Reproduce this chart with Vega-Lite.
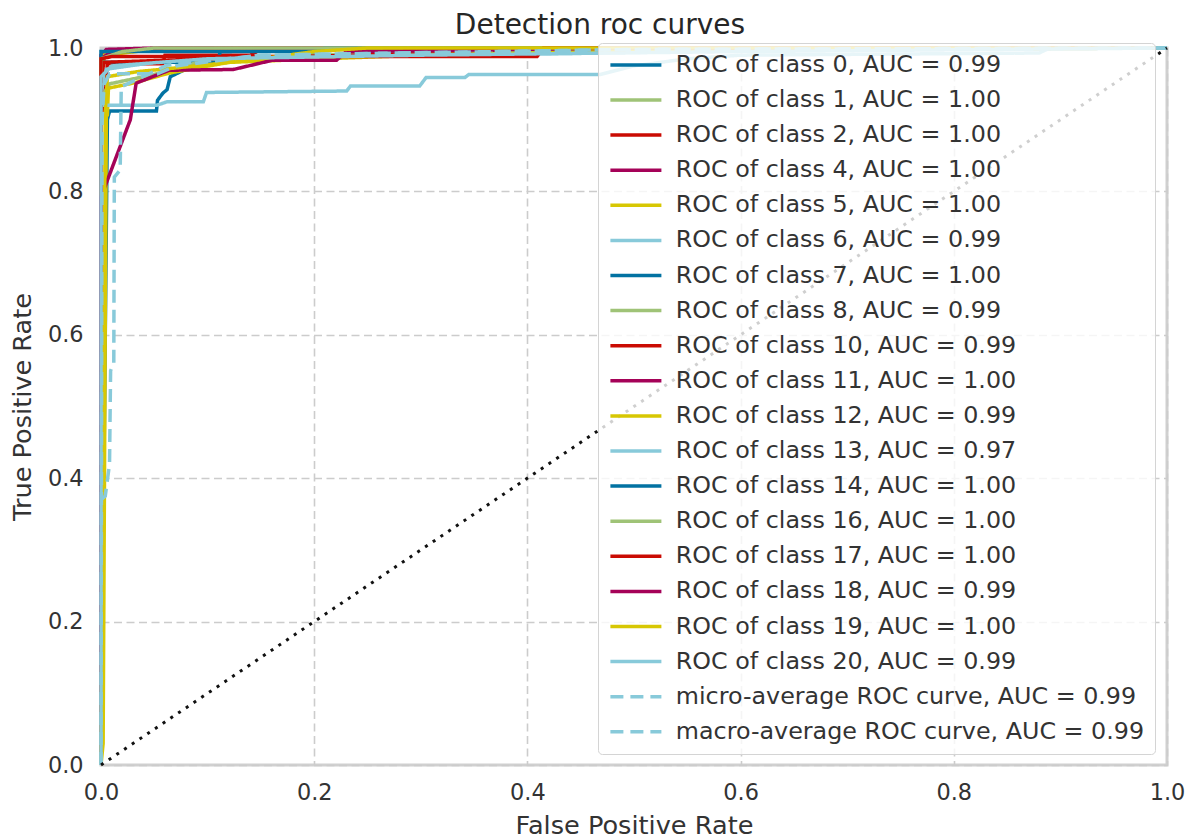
{
  "$schema": "https://vega.github.io/schema/vega-lite/v6.json",
  "width": 1066,
  "height": 717,
  "autosize": {"type": "none"},
  "padding": {"left": 101, "top": 48, "right": 32, "bottom": 75},
  "background": "white",
  "title": {"text": "Detection roc curves", "fontSize": 28, "font": "DejaVu Sans", "fontWeight": "normal", "color": "#262626", "offset": -3, "dx": -34},
  "config": {
    "font": "DejaVu Sans",
    "view": {"stroke": "#d0d0d0", "strokeWidth": 3},
    "axis": {
      "domain": false, "ticks": false,
      "grid": true, "gridColor": "#cccccc", "gridDash": [8, 4.5], "gridWidth": 1.6,
      "labelFont": "DejaVu Sans", "labelFontSize": 22.4, "labelColor": "#333333",
      "titleFont": "DejaVu Sans", "titleFontSize": 25.6, "titleColor": "#333333", "titleFontWeight": "normal",
      "labelFlush": false
    },
    "legend": {
      "title": null,
      "fillColor": "rgba(255,255,255,0.8)",
      "strokeColor": "#d4d4d4",
      "cornerRadius": 4,
      "padding": 10,
      "labelFont": "DejaVu Sans",
      "labelFontSize": 23.8,
      "labelColor": "#333333",
      "labelLimit": 0,
      "symbolType": "M-3,0H3",
      "symbolSize": 289,
      "symbolStrokeWidth": 3.5,
      "symbolOffset": 16,
      "labelOffset": 28,
      "rowPadding": 10.1,
      "symbolLimit": 0
    }
  },
  "datasets": {
    "diag": [{"fpr": 0, "tpr": 0}, {"fpr": 1, "tpr": 1}],
    "roc": [
      {"s": "ROC of class 0, AUC = 0.99", "fpr": 0, "tpr": 0},
      {"s": "ROC of class 0, AUC = 0.99", "fpr": 0.006, "tpr": 0.9},
      {"s": "ROC of class 0, AUC = 0.99", "fpr": 0.008, "tpr": 0.912},
      {"s": "ROC of class 0, AUC = 0.99", "fpr": 0.052, "tpr": 0.912},
      {"s": "ROC of class 0, AUC = 0.99", "fpr": 0.053, "tpr": 0.927},
      {"s": "ROC of class 0, AUC = 0.99", "fpr": 0.058, "tpr": 0.937},
      {"s": "ROC of class 0, AUC = 0.99", "fpr": 0.062, "tpr": 0.942},
      {"s": "ROC of class 0, AUC = 0.99", "fpr": 0.065, "tpr": 0.96},
      {"s": "ROC of class 0, AUC = 0.99", "fpr": 0.09, "tpr": 0.978},
      {"s": "ROC of class 0, AUC = 0.99", "fpr": 0.2, "tpr": 0.99},
      {"s": "ROC of class 0, AUC = 0.99", "fpr": 0.5, "tpr": 0.996},
      {"s": "ROC of class 0, AUC = 0.99", "fpr": 1, "tpr": 1},

      {"s": "ROC of class 1, AUC = 1.00", "fpr": 0, "tpr": 0},
      {"s": "ROC of class 1, AUC = 1.00", "fpr": 0, "tpr": 0.97},
      {"s": "ROC of class 1, AUC = 1.00", "fpr": 0.004, "tpr": 0.99},
      {"s": "ROC of class 1, AUC = 1.00", "fpr": 0.03, "tpr": 0.996},
      {"s": "ROC of class 1, AUC = 1.00", "fpr": 0.1, "tpr": 1},
      {"s": "ROC of class 1, AUC = 1.00", "fpr": 1, "tpr": 1},

      {"s": "ROC of class 2, AUC = 1.00", "fpr": 0, "tpr": 0},
      {"s": "ROC of class 2, AUC = 1.00", "fpr": 0, "tpr": 0.9},
      {"s": "ROC of class 2, AUC = 1.00", "fpr": 0.004, "tpr": 0.946},
      {"s": "ROC of class 2, AUC = 1.00", "fpr": 0.006, "tpr": 0.978},
      {"s": "ROC of class 2, AUC = 1.00", "fpr": 0.058, "tpr": 0.978},
      {"s": "ROC of class 2, AUC = 1.00", "fpr": 0.06, "tpr": 0.99},
      {"s": "ROC of class 2, AUC = 1.00", "fpr": 0.14, "tpr": 0.99},
      {"s": "ROC of class 2, AUC = 1.00", "fpr": 0.15, "tpr": 0.998},
      {"s": "ROC of class 2, AUC = 1.00", "fpr": 0.3, "tpr": 1},
      {"s": "ROC of class 2, AUC = 1.00", "fpr": 1, "tpr": 1},

      {"s": "ROC of class 4, AUC = 1.00", "fpr": 0, "tpr": 0},
      {"s": "ROC of class 4, AUC = 1.00", "fpr": 0, "tpr": 0.99},
      {"s": "ROC of class 4, AUC = 1.00", "fpr": 0.005, "tpr": 0.998},
      {"s": "ROC of class 4, AUC = 1.00", "fpr": 0.05, "tpr": 1},
      {"s": "ROC of class 4, AUC = 1.00", "fpr": 1, "tpr": 1},

      {"s": "ROC of class 5, AUC = 1.00", "fpr": 0, "tpr": 0},
      {"s": "ROC of class 5, AUC = 1.00", "fpr": 0, "tpr": 0.97},
      {"s": "ROC of class 5, AUC = 1.00", "fpr": 0.003, "tpr": 0.99},
      {"s": "ROC of class 5, AUC = 1.00", "fpr": 0.05, "tpr": 0.998},
      {"s": "ROC of class 5, AUC = 1.00", "fpr": 0.15, "tpr": 1},
      {"s": "ROC of class 5, AUC = 1.00", "fpr": 1, "tpr": 1},

      {"s": "ROC of class 6, AUC = 0.99", "fpr": 0, "tpr": 0},
      {"s": "ROC of class 6, AUC = 0.99", "fpr": 0, "tpr": 0.93},
      {"s": "ROC of class 6, AUC = 0.99", "fpr": 0.003, "tpr": 0.97},
      {"s": "ROC of class 6, AUC = 0.99", "fpr": 0.05, "tpr": 0.98},
      {"s": "ROC of class 6, AUC = 0.99", "fpr": 0.17, "tpr": 0.986},
      {"s": "ROC of class 6, AUC = 0.99", "fpr": 0.3, "tpr": 0.99},
      {"s": "ROC of class 6, AUC = 0.99", "fpr": 0.47, "tpr": 0.993},
      {"s": "ROC of class 6, AUC = 0.99", "fpr": 0.75, "tpr": 1},
      {"s": "ROC of class 6, AUC = 0.99", "fpr": 1, "tpr": 1},

      {"s": "ROC of class 7, AUC = 1.00", "fpr": 0, "tpr": 0},
      {"s": "ROC of class 7, AUC = 1.00", "fpr": 0, "tpr": 0.98},
      {"s": "ROC of class 7, AUC = 1.00", "fpr": 0.109, "tpr": 0.98},
      {"s": "ROC of class 7, AUC = 1.00", "fpr": 0.112, "tpr": 0.995},
      {"s": "ROC of class 7, AUC = 1.00", "fpr": 0.3, "tpr": 1},
      {"s": "ROC of class 7, AUC = 1.00", "fpr": 1, "tpr": 1},

      {"s": "ROC of class 8, AUC = 0.99", "fpr": 0, "tpr": 0},
      {"s": "ROC of class 8, AUC = 0.99", "fpr": 0, "tpr": 0.93},
      {"s": "ROC of class 8, AUC = 0.99", "fpr": 0.008, "tpr": 0.95},
      {"s": "ROC of class 8, AUC = 0.99", "fpr": 0.04, "tpr": 0.96},
      {"s": "ROC of class 8, AUC = 0.99", "fpr": 0.07, "tpr": 0.97},
      {"s": "ROC of class 8, AUC = 0.99", "fpr": 0.1, "tpr": 0.985},
      {"s": "ROC of class 8, AUC = 0.99", "fpr": 0.3, "tpr": 0.995},
      {"s": "ROC of class 8, AUC = 0.99", "fpr": 1, "tpr": 1},

      {"s": "ROC of class 10, AUC = 0.99", "fpr": 0, "tpr": 0},
      {"s": "ROC of class 10, AUC = 0.99", "fpr": 0, "tpr": 0.96},
      {"s": "ROC of class 10, AUC = 0.99", "fpr": 0.003, "tpr": 0.98},
      {"s": "ROC of class 10, AUC = 0.99", "fpr": 0.1, "tpr": 0.985},
      {"s": "ROC of class 10, AUC = 0.99", "fpr": 0.28, "tpr": 0.9916},
      {"s": "ROC of class 10, AUC = 0.99", "fpr": 0.368, "tpr": 0.9916},
      {"s": "ROC of class 10, AUC = 0.99", "fpr": 0.372, "tpr": 1},
      {"s": "ROC of class 10, AUC = 0.99", "fpr": 1, "tpr": 1},

      {"s": "ROC of class 11, AUC = 1.00", "fpr": 0, "tpr": 0},
      {"s": "ROC of class 11, AUC = 1.00", "fpr": 0, "tpr": 0.985},
      {"s": "ROC of class 11, AUC = 1.00", "fpr": 0.01, "tpr": 0.995},
      {"s": "ROC of class 11, AUC = 1.00", "fpr": 0.06, "tpr": 1},
      {"s": "ROC of class 11, AUC = 1.00", "fpr": 1, "tpr": 1},

      {"s": "ROC of class 12, AUC = 0.99", "fpr": 0, "tpr": 0},
      {"s": "ROC of class 12, AUC = 0.99", "fpr": 0.002, "tpr": 0.03},
      {"s": "ROC of class 12, AUC = 0.99", "fpr": 0.005, "tpr": 0.907},
      {"s": "ROC of class 12, AUC = 0.99", "fpr": 0.006, "tpr": 0.907},
      {"s": "ROC of class 12, AUC = 0.99", "fpr": 0.007, "tpr": 0.944},
      {"s": "ROC of class 12, AUC = 0.99", "fpr": 0.03, "tpr": 0.951},
      {"s": "ROC of class 12, AUC = 0.99", "fpr": 0.064, "tpr": 0.965},
      {"s": "ROC of class 12, AUC = 0.99", "fpr": 0.12, "tpr": 0.98},
      {"s": "ROC of class 12, AUC = 0.99", "fpr": 0.3, "tpr": 0.99},
      {"s": "ROC of class 12, AUC = 0.99", "fpr": 0.5, "tpr": 0.996},
      {"s": "ROC of class 12, AUC = 0.99", "fpr": 1, "tpr": 1},

      {"s": "ROC of class 13, AUC = 0.97", "fpr": 0, "tpr": 0},
      {"s": "ROC of class 13, AUC = 0.97", "fpr": 0, "tpr": 0.92},
      {"s": "ROC of class 13, AUC = 0.97", "fpr": 0.052, "tpr": 0.92},
      {"s": "ROC of class 13, AUC = 0.97", "fpr": 0.062, "tpr": 0.925},
      {"s": "ROC of class 13, AUC = 0.97", "fpr": 0.096, "tpr": 0.925},
      {"s": "ROC of class 13, AUC = 0.97", "fpr": 0.099, "tpr": 0.938},
      {"s": "ROC of class 13, AUC = 0.97", "fpr": 0.2305, "tpr": 0.94},
      {"s": "ROC of class 13, AUC = 0.97", "fpr": 0.234, "tpr": 0.947},
      {"s": "ROC of class 13, AUC = 0.97", "fpr": 0.299, "tpr": 0.947},
      {"s": "ROC of class 13, AUC = 0.97", "fpr": 0.305, "tpr": 0.959},
      {"s": "ROC of class 13, AUC = 0.97", "fpr": 0.3415, "tpr": 0.959},
      {"s": "ROC of class 13, AUC = 0.97", "fpr": 0.345, "tpr": 0.963},
      {"s": "ROC of class 13, AUC = 0.97", "fpr": 0.468, "tpr": 0.963},
      {"s": "ROC of class 13, AUC = 0.97", "fpr": 0.5, "tpr": 0.975},
      {"s": "ROC of class 13, AUC = 0.97", "fpr": 0.55, "tpr": 0.985},
      {"s": "ROC of class 13, AUC = 0.97", "fpr": 0.6, "tpr": 0.99},
      {"s": "ROC of class 13, AUC = 0.97", "fpr": 0.88, "tpr": 0.993},
      {"s": "ROC of class 13, AUC = 0.97", "fpr": 0.89, "tpr": 1},
      {"s": "ROC of class 13, AUC = 0.97", "fpr": 1, "tpr": 1},

      {"s": "ROC of class 14, AUC = 1.00", "fpr": 0, "tpr": 0},
      {"s": "ROC of class 14, AUC = 1.00", "fpr": 0, "tpr": 0.995},
      {"s": "ROC of class 14, AUC = 1.00", "fpr": 0.2, "tpr": 0.995},
      {"s": "ROC of class 14, AUC = 1.00", "fpr": 0.21, "tpr": 1},
      {"s": "ROC of class 14, AUC = 1.00", "fpr": 1, "tpr": 1},

      {"s": "ROC of class 16, AUC = 1.00", "fpr": 0, "tpr": 0},
      {"s": "ROC of class 16, AUC = 1.00", "fpr": 0, "tpr": 0.985},
      {"s": "ROC of class 16, AUC = 1.00", "fpr": 0.02, "tpr": 0.995},
      {"s": "ROC of class 16, AUC = 1.00", "fpr": 0.05, "tpr": 1},
      {"s": "ROC of class 16, AUC = 1.00", "fpr": 1, "tpr": 1},

      {"s": "ROC of class 17, AUC = 1.00", "fpr": 0, "tpr": 0},
      {"s": "ROC of class 17, AUC = 1.00", "fpr": 0, "tpr": 0.985},
      {"s": "ROC of class 17, AUC = 1.00", "fpr": 0.01, "tpr": 0.988},
      {"s": "ROC of class 17, AUC = 1.00", "fpr": 0.409, "tpr": 0.988},
      {"s": "ROC of class 17, AUC = 1.00", "fpr": 0.415, "tpr": 1},
      {"s": "ROC of class 17, AUC = 1.00", "fpr": 1, "tpr": 1},

      {"s": "ROC of class 18, AUC = 0.99", "fpr": 0, "tpr": 0},
      {"s": "ROC of class 18, AUC = 0.99", "fpr": 0, "tpr": 0.792},
      {"s": "ROC of class 18, AUC = 0.99", "fpr": 0.0275, "tpr": 0.9},
      {"s": "ROC of class 18, AUC = 0.99", "fpr": 0.033, "tpr": 0.951},
      {"s": "ROC of class 18, AUC = 0.99", "fpr": 0.064, "tpr": 0.969},
      {"s": "ROC of class 18, AUC = 0.99", "fpr": 0.124, "tpr": 0.97},
      {"s": "ROC of class 18, AUC = 0.99", "fpr": 0.161, "tpr": 0.983},
      {"s": "ROC of class 18, AUC = 0.99", "fpr": 0.221, "tpr": 0.983},
      {"s": "ROC of class 18, AUC = 0.99", "fpr": 0.23, "tpr": 0.995},
      {"s": "ROC of class 18, AUC = 0.99", "fpr": 0.5, "tpr": 1},
      {"s": "ROC of class 18, AUC = 0.99", "fpr": 1, "tpr": 1},

      {"s": "ROC of class 19, AUC = 1.00", "fpr": 0, "tpr": 0},
      {"s": "ROC of class 19, AUC = 1.00", "fpr": 0.004, "tpr": 0.91},
      {"s": "ROC of class 19, AUC = 1.00", "fpr": 0.006, "tpr": 0.96},
      {"s": "ROC of class 19, AUC = 1.00", "fpr": 0.034, "tpr": 0.967},
      {"s": "ROC of class 19, AUC = 1.00", "fpr": 0.062, "tpr": 0.971},
      {"s": "ROC of class 19, AUC = 1.00", "fpr": 0.121, "tpr": 0.98},
      {"s": "ROC of class 19, AUC = 1.00", "fpr": 0.14, "tpr": 0.983},
      {"s": "ROC of class 19, AUC = 1.00", "fpr": 0.2, "tpr": 0.995},
      {"s": "ROC of class 19, AUC = 1.00", "fpr": 0.25, "tpr": 1},
      {"s": "ROC of class 19, AUC = 1.00", "fpr": 1, "tpr": 1},

      {"s": "ROC of class 20, AUC = 0.99", "fpr": 0, "tpr": 0},
      {"s": "ROC of class 20, AUC = 0.99", "fpr": 0, "tpr": 0.96},
      {"s": "ROC of class 20, AUC = 0.99", "fpr": 0.01, "tpr": 0.975},
      {"s": "ROC of class 20, AUC = 0.99", "fpr": 0.1, "tpr": 0.985},
      {"s": "ROC of class 20, AUC = 0.99", "fpr": 0.3, "tpr": 0.99},
      {"s": "ROC of class 20, AUC = 0.99", "fpr": 0.6, "tpr": 0.995},
      {"s": "ROC of class 20, AUC = 0.99", "fpr": 1, "tpr": 1},

      {"s": "micro-average ROC curve, AUC = 0.99", "fpr": 0, "tpr": 0},
      {"s": "micro-average ROC curve, AUC = 0.99", "fpr": 0.001, "tpr": 0.9},
      {"s": "micro-average ROC curve, AUC = 0.99", "fpr": 0.003, "tpr": 0.95},
      {"s": "micro-average ROC curve, AUC = 0.99", "fpr": 0.008, "tpr": 0.964},
      {"s": "micro-average ROC curve, AUC = 0.99", "fpr": 0.053, "tpr": 0.964},
      {"s": "micro-average ROC curve, AUC = 0.99", "fpr": 0.07, "tpr": 0.975},
      {"s": "micro-average ROC curve, AUC = 0.99", "fpr": 0.15, "tpr": 0.99},
      {"s": "micro-average ROC curve, AUC = 0.99", "fpr": 0.5, "tpr": 0.998},
      {"s": "micro-average ROC curve, AUC = 0.99", "fpr": 1, "tpr": 1},

      {"s": "macro-average ROC curve, AUC = 0.99", "fpr": 0, "tpr": 0.37},
      {"s": "macro-average ROC curve, AUC = 0.99", "fpr": 0.004, "tpr": 0.375},
      {"s": "macro-average ROC curve, AUC = 0.99", "fpr": 0.008, "tpr": 0.42},
      {"s": "macro-average ROC curve, AUC = 0.99", "fpr": 0.009, "tpr": 0.55},
      {"s": "macro-average ROC curve, AUC = 0.99", "fpr": 0.012, "tpr": 0.56},
      {"s": "macro-average ROC curve, AUC = 0.99", "fpr": 0.0125, "tpr": 0.82},
      {"s": "macro-average ROC curve, AUC = 0.99", "fpr": 0.018, "tpr": 0.83},
      {"s": "macro-average ROC curve, AUC = 0.99", "fpr": 0.019, "tpr": 0.946},
      {"s": "macro-average ROC curve, AUC = 0.99", "fpr": 0.025, "tpr": 0.95},
      {"s": "macro-average ROC curve, AUC = 0.99", "fpr": 0.062, "tpr": 0.976},
      {"s": "macro-average ROC curve, AUC = 0.99", "fpr": 0.15, "tpr": 0.99},
      {"s": "macro-average ROC curve, AUC = 0.99", "fpr": 0.5, "tpr": 0.998},
      {"s": "macro-average ROC curve, AUC = 0.99", "fpr": 1, "tpr": 1}
    ]
  },
  "layer": [
    {
      "data": {"name": "roc"},
      "mark": {"type": "line", "strokeWidth": 3.5, "strokeCap": "butt", "strokeJoin": "miter"},
      "encoding": {
        "x": {"field": "fpr", "type": "quantitative", "scale": {"domain": [0, 1], "nice": false, "zero": false},
              "axis": {"title": "False Positive Rate", "values": [0, 0.2, 0.4, 0.6, 0.8, 1.0], "format": ".1f", "labelPadding": 16, "titlePadding": 10}},
        "y": {"field": "tpr", "type": "quantitative", "scale": {"domain": [0, 1], "nice": false, "zero": false},
              "axis": {"title": "True Positive Rate", "values": [0, 0.2, 0.4, 0.6, 0.8, 1.0], "format": ".1f", "labelPadding": 18, "titlePadding": 12}},
        "color": {
          "field": "s", "type": "nominal",
          "scale": {
            "domain": ["ROC of class 0, AUC = 0.99", "ROC of class 1, AUC = 1.00", "ROC of class 2, AUC = 1.00", "ROC of class 4, AUC = 1.00", "ROC of class 5, AUC = 1.00", "ROC of class 6, AUC = 0.99", "ROC of class 7, AUC = 1.00", "ROC of class 8, AUC = 0.99", "ROC of class 10, AUC = 0.99", "ROC of class 11, AUC = 1.00", "ROC of class 12, AUC = 0.99", "ROC of class 13, AUC = 0.97", "ROC of class 14, AUC = 1.00", "ROC of class 16, AUC = 1.00", "ROC of class 17, AUC = 1.00", "ROC of class 18, AUC = 0.99", "ROC of class 19, AUC = 1.00", "ROC of class 20, AUC = 0.99", "micro-average ROC curve, AUC = 0.99", "macro-average ROC curve, AUC = 0.99"],
            "range": ["#0272a2", "#9fc377", "#ca0b03", "#a50258", "#d7c703", "#88cada", "#0272a2", "#9fc377", "#ca0b03", "#a50258", "#d7c703", "#88cada", "#0272a2", "#9fc377", "#ca0b03", "#a50258", "#d7c703", "#88cada", "#88cada", "#88cada"]
          },
          "legend": {"orient": "none", "legendX": 497, "legendY": -5}
        },
        "strokeDash": {
          "field": "s", "type": "nominal",
          "scale": {
            "domain": ["ROC of class 0, AUC = 0.99", "ROC of class 1, AUC = 1.00", "ROC of class 2, AUC = 1.00", "ROC of class 4, AUC = 1.00", "ROC of class 5, AUC = 1.00", "ROC of class 6, AUC = 0.99", "ROC of class 7, AUC = 1.00", "ROC of class 8, AUC = 0.99", "ROC of class 10, AUC = 0.99", "ROC of class 11, AUC = 1.00", "ROC of class 12, AUC = 0.99", "ROC of class 13, AUC = 0.97", "ROC of class 14, AUC = 1.00", "ROC of class 16, AUC = 1.00", "ROC of class 17, AUC = 1.00", "ROC of class 18, AUC = 0.99", "ROC of class 19, AUC = 1.00", "ROC of class 20, AUC = 0.99", "micro-average ROC curve, AUC = 0.99", "macro-average ROC curve, AUC = 0.99"],
            "range": [[1, 0], [1, 0], [1, 0], [1, 0], [1, 0], [1, 0], [1, 0], [1, 0], [1, 0], [1, 0], [1, 0], [1, 0], [1, 0], [1, 0], [1, 0], [1, 0], [1, 0], [1, 0], [13, 7], [13, 7]]
          },
          "legend": {"orient": "none", "legendX": 497, "legendY": -5}
        },
        "order": {"value": null}
      }
    },
    {
      "data": {"name": "diag"},
      "mark": {"type": "line", "color": "#111111", "strokeWidth": 3, "strokeDash": [3, 6.3]},
      "encoding": {
        "x": {"field": "fpr", "type": "quantitative"},
        "y": {"field": "tpr", "type": "quantitative"}
      }
    }
  ]
}
